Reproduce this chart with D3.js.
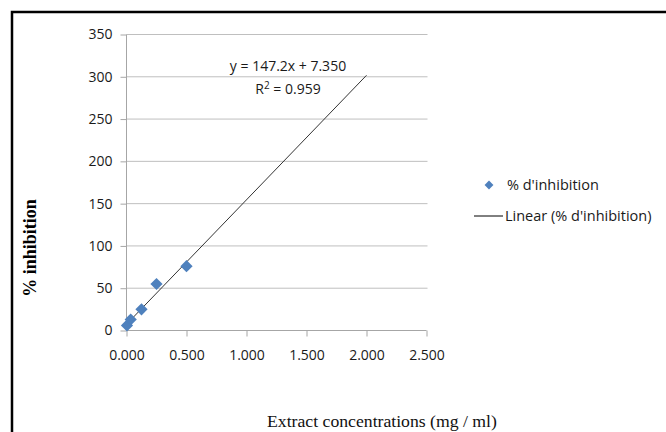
<!DOCTYPE html>
<html>
<head>
<meta charset="utf-8">
<script src="https://cdn.jsdelivr.net/npm/d3@7"></script>
<style>
  body { margin: 0; background: #fff; }
  svg { display: block; }
</style>
</head>
<body>
<svg id="chart" width="666" height="432"></svg>
<script>
// data
const concentrations = [0.004, 0.035, 0.125, 0.25, 0.5];
const inhibition = [6, 13, 25, 55, 76];
const yTicks = [0, 50, 100, 150, 200, 250, 300, 350];
const xTicks = [0, 0.5, 1.0, 1.5, 2.0, 2.5];
const slope = 147.2, intercept = 7.35;
const trendRange = [0, 2.0];
const eqLabel = "y = 147.2x + 7.350";
const r2Value = "0.959";
const legendLabels = ["% d'inhibition", "Linear (% d'inhibition)"];

var svg = d3.select("#chart"),
    font = "'Open Sans', sans-serif",
    blue = "#4f81bd";

// outer frame (cut off at right / bottom)
svg.append("rect")
    .attr("x", 12).attr("y", 12)
    .attr("width", 700).attr("height", 450)
    .attr("fill", "none")
    .attr("stroke", "#000")
    .attr("stroke-width", 2.5);

var x = d3.scaleLinear().domain([0, 2.5]).range([126.5, 426.5]),
    y = d3.scaleLinear().domain([0, 350]).range([330.5, 34.5]);

// grid lines
svg.append("g").selectAll("line")
    .data(yTicks.slice(1))
    .join("line")
    .attr("x1", x(0)).attr("x2", x(2.5) + 1)
    .attr("y1", d => y(d)).attr("y2", d => y(d))
    .attr("stroke", "#bfbfbf").attr("stroke-width", 1);

// y axis
var yAxis = svg.append("g")
    .attr("transform", `translate(${x(0)},0)`)
    .call(d3.axisLeft(y).tickValues(yTicks).tickSize(6).tickPadding(8).tickFormat(d3.format("d")));
// x axis
var xAxis = svg.append("g")
    .attr("transform", `translate(0,${y(0)})`)
    .call(d3.axisBottom(x).tickValues(xTicks).tickSize(6).tickPadding(14).tickFormat(d3.format(".3f")));

[yAxis, xAxis].forEach(a => {
    a.select(".domain").attr("stroke", "#a6a6a6");
    a.selectAll(".tick line").attr("stroke", "#a6a6a6");
    a.selectAll("text").attr("font-family", font).attr("font-size", 14).attr("fill", "#1a1a1a");
});
xAxis.select(".domain").attr("d", `M${x(0)},0H${x(2.5)}`);
yAxis.select(".domain").attr("d", `M0,${y(0)}V${y(350)}`);

// trend line
svg.append("line")
    .attr("x1", x(trendRange[0])).attr("y1", y(slope * trendRange[0] + intercept))
    .attr("x2", x(trendRange[1])).attr("y2", y(slope * trendRange[1] + intercept))
    .attr("stroke", "#333").attr("stroke-width", 1);

// points
var diamond = d3.symbol().type(d3.symbolDiamond2).size(95);
svg.append("g").selectAll("path")
    .data(concentrations.map((c, i) => [c, inhibition[i]]))
    .join("path")
    .attr("d", diamond)
    .attr("transform", d => `translate(${x(d[0])},${y(d[1])})`)
    .attr("fill", blue);

// equation
svg.append("text")
    .attr("x", 288).attr("y", 71)
    .attr("text-anchor", "middle")
    .attr("font-family", font).attr("font-size", 14).attr("fill", "#1a1a1a")
    .text(eqLabel);
var r2 = svg.append("text")
    .attr("x", 288).attr("y", 94)
    .attr("text-anchor", "middle")
    .attr("font-family", font).attr("font-size", 14).attr("fill", "#1a1a1a");
r2.append("tspan").text("R");
r2.append("tspan").attr("dy", -5).attr("font-size", 10).text("2");
r2.append("tspan").attr("dy", 5).text(" = " + r2Value);

// legend
svg.append("path")
    .attr("d", d3.symbol().type(d3.symbolDiamond2).size(50))
    .attr("transform", "translate(489,185)")
    .attr("fill", blue);
svg.append("text")
    .attr("x", 507).attr("y", 190)
    .attr("font-family", font).attr("font-size", 14.5).attr("fill", "#1a1a1a")
    .text(legendLabels[0]);
svg.append("line")
    .attr("x1", 474).attr("x2", 503)
    .attr("y1", 216).attr("y2", 216)
    .attr("stroke", "#000").attr("stroke-width", 1);
svg.append("text")
    .attr("x", 505).attr("y", 221)
    .attr("font-family", font).attr("font-size", 14.5).attr("fill", "#1a1a1a")
    .text(legendLabels[1]);

// axis titles
svg.append("text")
    .attr("transform", "translate(36,248) rotate(-90)")
    .attr("text-anchor", "middle")
    .attr("font-family", "'Liberation Serif', serif")
    .attr("font-weight", "bold")
    .attr("font-size", 18)
    .text("% inhibition");
svg.append("text")
    .attr("x", 382).attr("y", 427)
    .attr("text-anchor", "middle")
    .attr("font-family", "'Liberation Serif', serif")
    .attr("font-size", 17.7)
    .attr("fill", "#111")
    .text("Extract concentrations (mg / ml)");
</script>
</body>
</html>
